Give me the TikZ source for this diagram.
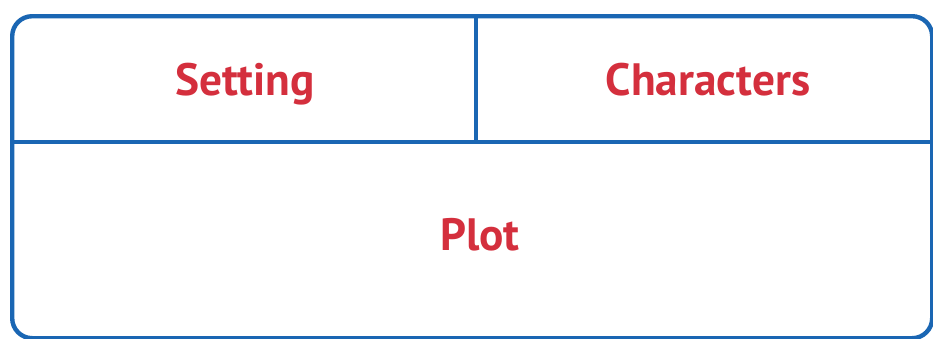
\documentclass[tikz,border=0pt]{standalone}
\usepackage{fontspec}
\newfontfamily\lblfont{PT Sans}
\definecolor{boxblue}{HTML}{1A66B3}
\definecolor{lblred}{HTML}{D42F3D}
\begin{document}
\begin{tikzpicture}[x=0.75pt,y=-0.75pt,
  frame/.style={draw=boxblue,line width=3.3pt},
  lbl/.style={text=lblred,font=\lblfont\bfseries\fontsize{34}{40}\selectfont,anchor=base,inner sep=0pt}]
\useasboundingbox (0,0) rectangle (933,339);
\fill[white] (0,0) rectangle (933,339);
\node[frame,rounded corners=15pt,minimum width=690pt,minimum height=241.5pt,anchor=north west,inner sep=0pt] (box) at (10,14) {};
\coordinate (vtop) at (476,14);
\coordinate (vbot) at (476,142);
\coordinate (hl) at (10,142);
\coordinate (hr) at (930,142);
\draw[frame] (vtop) -- (vbot);
\draw[frame] (hl) -- (hr);
\node[lbl] (setting) at (245,95) {Setting};
\node[lbl] (characters) at (708,95) {Characters};
\node[lbl] (plot) at (480,250) {Plot};
\end{tikzpicture}
\end{document}
